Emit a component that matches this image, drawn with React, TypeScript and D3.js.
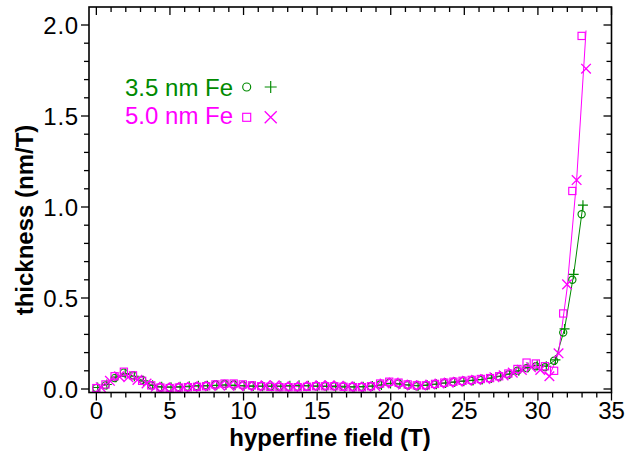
import React from "react";
import * as d3 from "d3";

// hyperfine field grid (T)
const fieldGrid = [0, 0.62, 1.24, 1.87, 2.49, 3.11, 3.73, 4.35, 4.98, 5.6, 6.22, 6.84, 7.46, 8.09, 8.71, 9.33, 9.95, 10.57, 11.2, 11.82, 12.44, 13.06, 13.68, 14.31, 14.93, 15.55, 16.17, 16.79, 17.42, 18.04, 18.66, 19.28, 19.9, 20.53, 21.15, 21.77, 22.39, 23.01, 23.64, 24.26, 24.88, 25.5, 26.12, 26.75, 27.37, 27.99, 28.61, 29.23, 29.86, 30.48, 31.1, 31.72, 32.34, 32.97];
const plusField = [0.09, 0.71, 1.33, 1.96, 2.58, 3.2, 3.82, 4.44, 5.07, 5.69, 6.31, 6.93, 7.55, 8.18, 8.8, 9.42, 10.04, 10.66, 11.29, 11.91, 12.53, 13.15, 13.77, 14.4, 15.02, 15.64, 16.26, 16.88, 17.51, 18.13, 18.75, 19.37, 19.99, 20.62, 21.24, 21.86, 22.48, 23.1, 23.73, 24.35, 24.97, 25.59, 26.21, 26.84, 27.46, 28.08, 28.7, 29.32, 29.95, 30.57, 31.19, 31.81, 32.43, 33.06];
const crossField = [0.3, 0.92, 1.54, 2.17, 2.79, 3.41, 4.03, 4.65, 5.28, 5.9, 6.52, 7.14, 7.76, 8.39, 9.01, 9.63, 10.25, 10.87, 11.5, 12.12, 12.74, 13.36, 13.98, 14.61, 15.23, 15.85, 16.47, 17.09, 17.72, 18.34, 18.96, 19.58, 20.2, 20.83, 21.45, 22.07, 22.69, 23.31, 23.94, 24.56, 25.18, 25.8, 26.42, 27.05, 27.67, 28.29, 28.91, 29.53, 30.16, 30.78, 31.4, 31.98, 32.63, 33.27];

// 3.5 nm Fe
const fe35Circle = [0.005, 0.02, 0.06, 0.09, 0.075, 0.05, 0.02, 0.01, 0.008, 0.01, 0.012, 0.015, 0.02, 0.025, 0.028, 0.025, 0.02, 0.018, 0.015, 0.012, 0.012, 0.012, 0.012, 0.013, 0.015, 0.015, 0.015, 0.013, 0.012, 0.012, 0.015, 0.025, 0.035, 0.03, 0.02, 0.015, 0.018, 0.025, 0.032, 0.038, 0.042, 0.045, 0.05, 0.058, 0.068, 0.08, 0.1, 0.115, 0.125, 0.12, 0.155, 0.31, 0.6, 0.96];
const fe35Plus = [0.008, 0.025, 0.065, 0.085, 0.07, 0.045, 0.02, 0.012, 0.01, 0.012, 0.015, 0.018, 0.018, 0.02, 0.022, 0.02, 0.018, 0.016, 0.015, 0.015, 0.015, 0.018, 0.02, 0.018, 0.015, 0.014, 0.013, 0.012, 0.012, 0.013, 0.016, 0.022, 0.03, 0.028, 0.022, 0.018, 0.02, 0.026, 0.033, 0.038, 0.043, 0.047, 0.052, 0.06, 0.07, 0.082, 0.1, 0.118, 0.13, 0.125, 0.16, 0.33, 0.63, 1.01];
// 5.0 nm Fe
const fe50Square = [0.005, 0.025, 0.07, 0.095, 0.075, 0.045, 0.02, 0.008, 0.005, 0.008, 0.01, 0.012, 0.015, 0.025, 0.03, 0.03, 0.025, 0.02, 0.015, 0.012, 0.01, 0.01, 0.01, 0.012, 0.015, 0.015, 0.015, 0.012, 0.01, 0.01, 0.015, 0.03, 0.04, 0.035, 0.025, 0.02, 0.02, 0.028, 0.035, 0.04, 0.045, 0.05, 0.055, 0.06, 0.07, 0.085, 0.11, 0.145, 0.14, 0.125, 0.1, 0.415, 1.088, 1.94];
const fe50Cross = [0.01, 0.045, 0.07, 0.065, 0.05, 0.03, 0.012, 0.008, 0.008, 0.01, 0.012, 0.015, 0.018, 0.02, 0.02, 0.018, 0.015, 0.015, 0.02, 0.02, 0.015, 0.012, 0.015, 0.018, 0.02, 0.02, 0.018, 0.015, 0.012, 0.012, 0.015, 0.03, 0.035, 0.025, 0.02, 0.02, 0.025, 0.03, 0.035, 0.04, 0.045, 0.05, 0.055, 0.065, 0.075, 0.09, 0.105, 0.12, 0.105, 0.07, 0.196, 0.575, 1.148, 1.76];
// connecting curves
const fe35Line = fe35Plus;
const fe50Line = [0.01, 0.045, 0.07, 0.065, 0.05, 0.03, 0.012, 0.008, 0.008, 0.01, 0.012, 0.015, 0.018, 0.02, 0.02, 0.018, 0.015, 0.015, 0.02, 0.02, 0.015, 0.012, 0.015, 0.018, 0.02, 0.02, 0.018, 0.015, 0.012, 0.012, 0.015, 0.03, 0.035, 0.025, 0.02, 0.02, 0.025, 0.03, 0.035, 0.04, 0.045, 0.05, 0.055, 0.065, 0.075, 0.09, 0.105, 0.12, 0.105, 0.07, 0.196, 0.55, 1.148, 1.97];

const xTicks = [0, 5, 10, 15, 20, 25, 30, 35];
const yTicks = [0, 0.5, 1.0, 1.5, 2.0];
const legendLabels = ["3.5 nm Fe", "5.0 nm Fe"];

const GREEN = "#008a00";
const MAGENTA = "#ff00ff";
const FONT = "'Liberation Sans', Arial, Helvetica, sans-serif";

export default function App() {
  const W = 634, H = 453;
  const L = 89, R = 611.5, T = 7, B = 392.5;
  const x = d3.scaleLinear().domain([-0.5, 35]).range([L, R]);
  const y = d3.scaleLinear().domain([0, 2]).range([389, 25]);

  const line = d3.line<[number, number]>().x(d => x(d[0])).y(d => y(d[1]));
  const pts = (xs: number[], ys: number[]) => xs.map((v, i) => [v, ys[i]] as [number, number]);

  const xMinor = d3.range(0, 36, 1);
  const yMinor = d3.range(0, 2.05, 0.1).map(v => +v.toFixed(2));
  const isMajorX = (v: number) => v % 5 === 0;
  const isMajorY = (v: number) => Math.abs(v * 2 - Math.round(v * 2)) < 1e-6;
  const SW = 1.15;

  const circle = (cx: number, cy: number, key: string, r = 3.6) => (
    <circle key={key} cx={cx} cy={cy} r={r} fill="none" stroke={GREEN} strokeWidth={SW} />
  );
  const plus = (cx: number, cy: number, key: string, s = 5) => (
    <path key={key} d={`M${cx - s},${cy}H${cx + s}M${cx},${cy - s}V${cy + s}`} stroke={GREEN} strokeWidth={SW} fill="none" />
  );
  const square = (cx: number, cy: number, key: string, s = 3.6) => (
    <rect key={key} x={cx - s} y={cy - s} width={2 * s} height={2 * s} fill="none" stroke={MAGENTA} strokeWidth={SW} />
  );
  const cross = (cx: number, cy: number, key: string, s = 4.8) => (
    <path key={key} d={`M${cx - s},${cy - s}L${cx + s},${cy + s}M${cx - s},${cy + s}L${cx + s},${cy - s}`} stroke={MAGENTA} strokeWidth={SW + 0.2} fill="none" />
  );

  return (
    <svg width={W} height={H} style={{ position: "absolute", left: 0, top: 0, background: "#fff" }} fontFamily={FONT}>
      <rect x={0} y={0} width={W} height={H} fill="#fff" />
      {/* lines */}
      <path d={line(pts(plusField, fe35Line)) || ""} fill="none" stroke={GREEN} strokeWidth={1} />
      <path d={line(pts(crossField, fe50Line)) || ""} fill="none" stroke={MAGENTA} strokeWidth={1} />
      {/* markers */}
      {fieldGrid.map((v, i) => circle(x(v), y(fe35Circle[i]), "c" + i))}
      {plusField.map((v, i) => plus(x(v), y(fe35Plus[i]), "p" + i))}
      {fieldGrid.map((v, i) => square(x(v), y(fe50Square[i]), "s" + i))}
      {crossField.map((v, i) => cross(x(v), y(fe50Cross[i]), "x" + i))}

      {/* frame */}
      <rect x={L} y={T} width={R - L} height={B - T} fill="none" stroke="#000" strokeWidth={1.6} />
      {/* bottom ticks (outward) and top ticks (inward) */}
      {xMinor.map(v => {
        const len = isMajorX(v) ? 8 : 5;
        return (
          <g key={"xt" + v}>
            <line x1={x(v)} x2={x(v)} y1={B} y2={B + len} stroke="#000" strokeWidth={1.3} />
            <line x1={x(v)} x2={x(v)} y1={T} y2={T + len} stroke="#000" strokeWidth={1.3} />
          </g>
        );
      })}
      {/* left ticks (outward) and right ticks (inward) */}
      {yMinor.map(v => {
        const len = isMajorY(v) ? 8 : 5;
        return (
          <g key={"yt" + v}>
            <line x1={L - len} x2={L} y1={y(v)} y2={y(v)} stroke="#000" strokeWidth={1.3} />
            <line x1={R - len} x2={R} y1={y(v)} y2={y(v)} stroke="#000" strokeWidth={1.3} />
          </g>
        );
      })}
      {xTicks.map(v => (
        <text key={"xl" + v} x={x(v)} y={419} textAnchor="middle" fontSize={24} fill="#000">{v}</text>
      ))}
      {yTicks.map(v => (
        <text key={"yl" + v} x={79} y={y(v) + 8.5} textAnchor="end" fontSize={24} fill="#000" letterSpacing={0.8}>{v.toFixed(1)}</text>
      ))}
      <text x={330} y={446} textAnchor="middle" fontSize={24} fontWeight="bold" fill="#000">hyperfine field (T)</text>
      <text transform={`translate(33,220) rotate(-90)`} textAnchor="middle" fontSize={24} fontWeight="bold" fill="#000">thickness (nm/T)</text>

      {/* legend */}
      <text x={125} y={96} fontSize={24} fill={GREEN}>{legendLabels[0]}</text>
      {circle(246.7, 87, "lc", 4)}
      {plus(270.7, 87, "lp", 6)}
      <text x={125} y={123.5} fontSize={24} fill={MAGENTA}>{legendLabels[1]}</text>
      {square(246.7, 117.3, "ls", 4)}
      {cross(270.7, 117.3, "lx", 6)}
    </svg>
  );
}
